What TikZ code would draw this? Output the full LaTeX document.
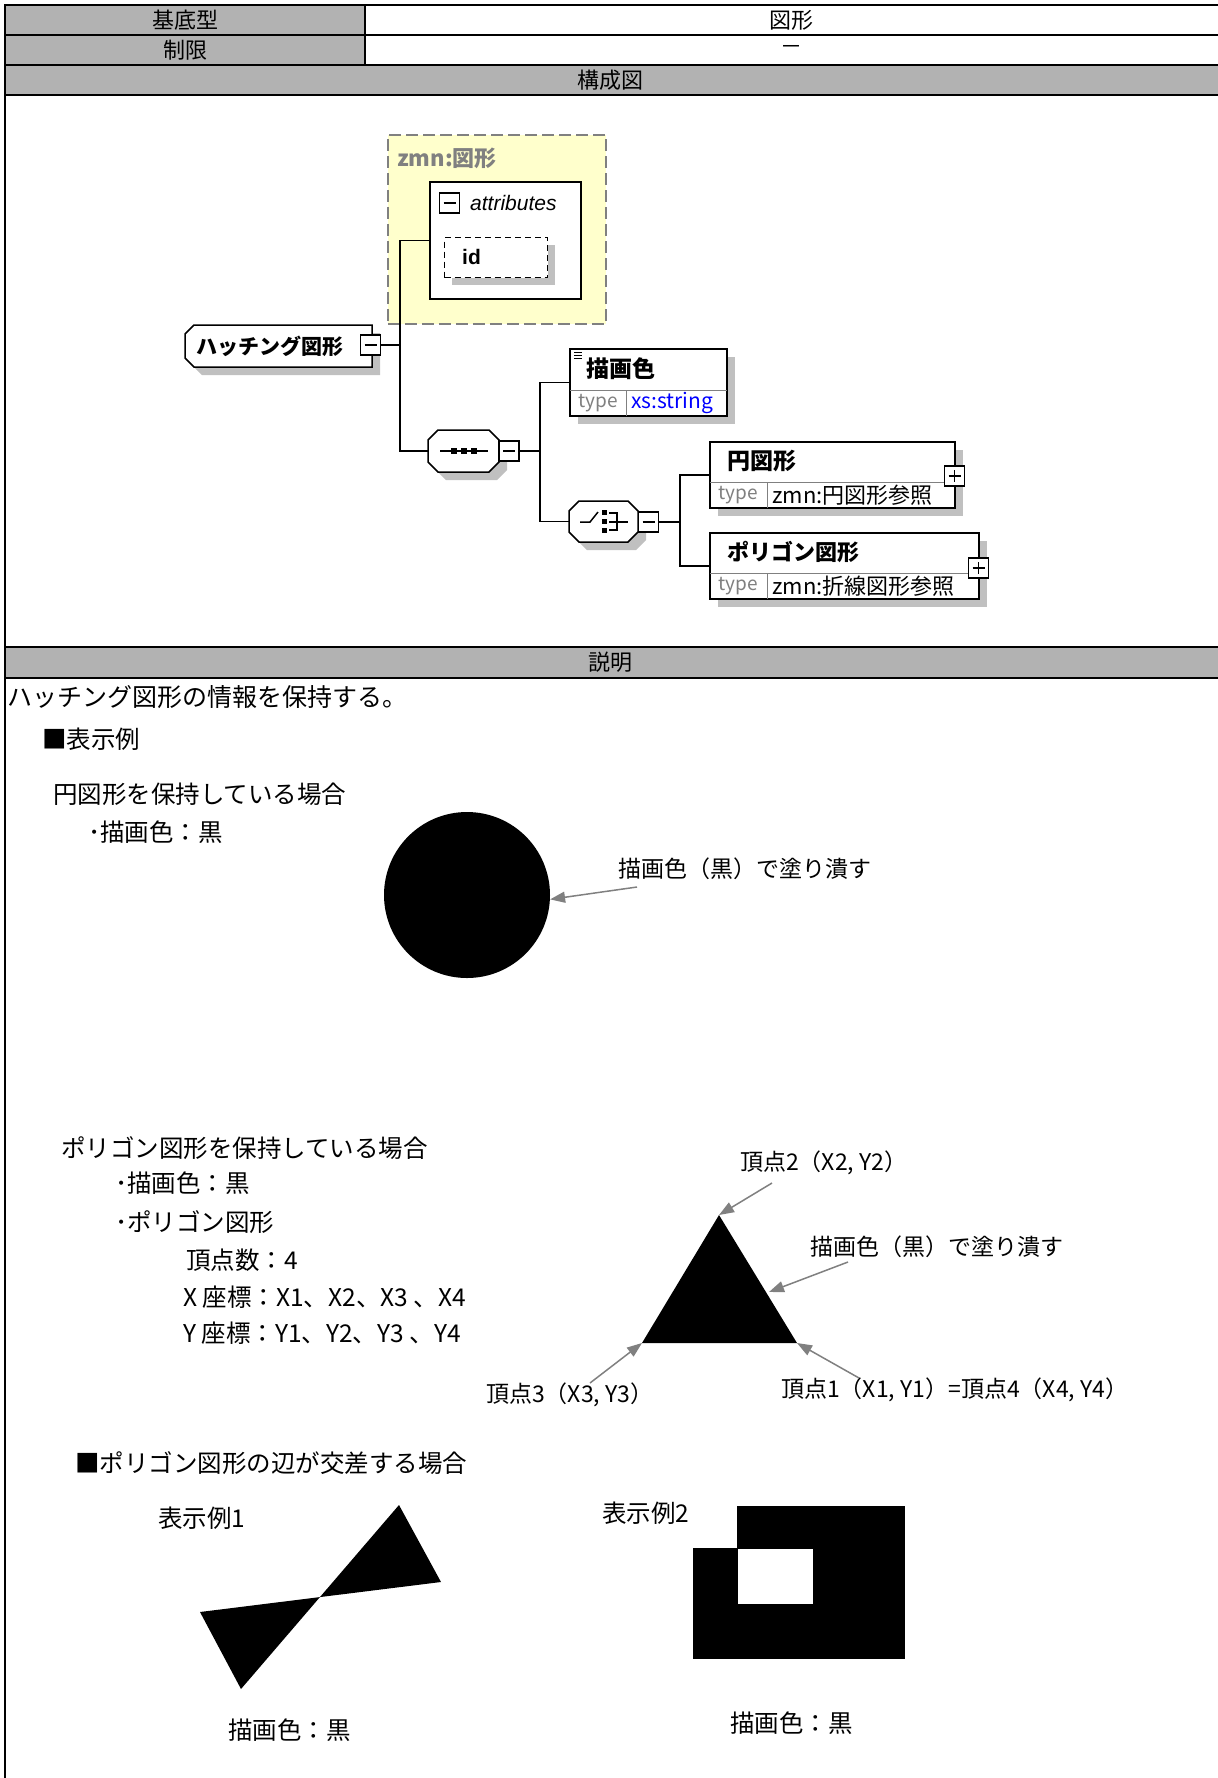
\documentclass[tikz,border=0pt]{standalone}
\usepackage{fontspec}
\setmainfont{Noto Sans CJK JP}
\newfontfamily\latinf{Liberation Sans}
\usetikzlibrary{arrows.meta}
\definecolor{hdrgray}{RGB}{178,178,178}
\definecolor{shgray}{RGB}{192,192,192}
\definecolor{ybg}{RGB}{255,255,204}
\definecolor{dgray}{RGB}{128,128,128}
\definecolor{tblue}{RGB}{0,0,255}
\newcommand{\fsz}[1]{\fontsize{#1}{#1}\selectfont}
\tikzset{
  tline/.style={line width=2pt},
  thin line/.style={line width=1.2pt},
  hdr/.style={inner sep=0pt, font=\fsz{22}},
  txt/.style={inner sep=0pt, anchor=west, font=\fsz{24.5}},
  lbl/.style={inner sep=0pt, anchor=west, font=\fsz{23}},
  ebox/.style={draw, line width=1.5pt, fill=white, inner sep=0pt, outer sep=0pt},
  shd/.style={fill=shgray, draw=none},
  conn/.style={line width=1.5pt},
  pointer/.style={draw=dgray, line width=1.5pt, -{Triangle[length=15pt,width=11pt]}},
  pmbox/.style={draw, line width=1.2pt, fill=white, minimum size=20pt, inner sep=0pt, outer sep=0pt},
  minusbox/.style={pmbox, path picture={\draw[line width=1.2pt] ([xshift=4pt]path picture bounding box.west) -- ([xshift=-4pt]path picture bounding box.east);}},
  plusbox/.style={pmbox, path picture={\draw[line width=1.2pt] ([xshift=4pt]path picture bounding box.west) -- ([xshift=-4pt]path picture bounding box.east); \draw[line width=1.2pt] ([yshift=-4pt]path picture bounding box.north) -- ([yshift=4pt]path picture bounding box.south);}},
  ename/.style={inner sep=0pt, anchor=west, font=\fsz{23}\bfseries},
  tlabel/.style={inner sep=0pt, text=dgray, font=\fsz{19}},
  tval/.style={inner sep=0pt, anchor=west, font=\fsz{22}},
  anc/.style={inner sep=0pt, outer sep=0pt, draw=none},
  divl/.style={line width=1pt, draw=dgray},
  octo/.style={line width=1.5pt, fill=white},
}
\begin{document}
\begin{tikzpicture}[x=1pt,y=-1pt]
\useasboundingbox (0,0) rectangle (1218,1778);
\fill[white] (0,0) rectangle (1218,1778);
% ---------- table ----------
\fill[hdrgray] (5,5) rectangle (365,65);
\fill[hdrgray] (5,65) rectangle (1218,95);
\fill[hdrgray] (5,647) rectangle (1218,678);
\draw[tline] (1218,5) -- (5,5) -- (5,1778);
\draw[thin line] (5,35) -- (1218,35);
\draw[tline] (5,65) -- (1218,65);
\draw[tline] (5,95) -- (1218,95);
\draw[tline] (5,647) -- (1218,647);
\draw[tline] (5,678) -- (1218,678);
\draw[thin line] (365,5) -- (365,65);
\node[hdr] (h1) at (185,20) {基底型};
\node[hdr] (v1) at (791,20) {図形};
\node[hdr] (h2) at (185,50) {制限};
\node[hdr] (v2) at (791,50) {－};
\node[hdr] (h3) at (610,80) {構成図};
\node[hdr] (h4) at (610,662) {説明};
% ---------- schema diagram ----------
\node[draw=dgray, fill=ybg, line width=1.5pt, dash pattern=on 12pt off 5pt, minimum width=218pt, minimum height=189pt, inner sep=0pt, anchor=north west] (grp) at (387,134) {};
\node[inner sep=0pt, anchor=west, text=dgray, font=\fsz{22}\bfseries] (grpl) at (397,158) {zmn:図形};
\node[ebox, minimum width=151pt, minimum height=117pt, anchor=north west] (attr) at (430,182) {};
\node[minusbox] (attrm) at (449.5,203) {};
\node[inner sep=0pt, anchor=west, font=\latinf\itshape\fsz{21}] (attrl) at (470,203) {attributes};
\fill[shd] (452,245) rectangle (555,285);
\node[draw, dash pattern=on 6pt off 4pt, line width=1.3pt, fill=white, minimum width=103pt, minimum height=40pt, inner sep=0pt, anchor=north west] (id) at (444,237) {};
\node[inner sep=0pt, anchor=west, font=\latinf\bfseries\fsz{21}] (idl) at (462,257) {id};
% element hatch
\node[anc, minimum width=187pt, minimum height=42pt, anchor=north west] (hatch) at (185,325) {};
\fill[shd, shift={(8,8)}] (194,325) -- (372,325) -- (372,367) -- (194,367) -- (185,358) -- (185,334) -- cycle;
\draw[octo] (194,325) -- (372,325) -- (372,367) -- (194,367) -- (185,358) -- (185,334) -- cycle;
\node[ename, font=\fsz{21}\bfseries] (hatchl) at (196,346) {ハッチング図形};
\node[minusbox] (hatchm) at (370.5,345) {};
% sequence
\node[anc, minimum width=70pt, minimum height=42pt] (seq) at (463.5,451) {};
\fill[shd, shift={(8,8)}] (438,430) -- (489,430) -- (499,440) -- (499,462) -- (489,472) -- (438,472) -- (428,462) -- (428,440) -- cycle;
\draw[octo] (438,430) -- (489,430) -- (499,440) -- (499,462) -- (489,472) -- (438,472) -- (428,462) -- (428,440) -- cycle;
\draw[line width=1.5pt] (440,451) -- (488,451);
\fill (451,448) rectangle (457,454);
\fill (461,448) rectangle (467,454);
\fill (471,448) rectangle (477,454);
\node[minusbox] (seqm) at (509,451) {};
% choice
\node[anc, minimum width=69pt, minimum height=41pt] (cho) at (603.5,521.5) {};
\fill[shd, shift={(8,8)}] (579,501) -- (628,501) -- (638,511) -- (638,532) -- (628,542) -- (579,542) -- (569,532) -- (569,511) -- cycle;
\draw[octo] (579,501) -- (628,501) -- (638,511) -- (638,532) -- (628,542) -- (579,542) -- (569,532) -- (569,511) -- cycle;
\draw[line width=1.5pt] (580,522) -- (590,522) -- (598,512);
\fill (602,510) rectangle (607,515);
\fill (602,519) rectangle (607,524);
\fill (602,528) rectangle (607,533);
\draw[line width=1.5pt] (609,513) -- (617,513) -- (617,530) -- (609,530);
\draw[line width=1.5pt] (609,522) -- (628,522);
\node[minusbox] (chom) at (648.5,522) {};
% element byoga
\fill[shd] (578,357) rectangle (735,424);
\node[ebox, minimum width=157pt, minimum height=67pt, anchor=north west] (byo) at (570,349) {};
\draw[divl] (570,390) -- (727,390);
\draw[divl] (626,390) -- (626,416);
\draw[line width=1pt] (574,352) -- (582,352) (574,355) -- (582,355) (574,358) -- (582,358);
\node[ename] (byol) at (586,369) {描画色};
\node[tlabel] (byot) at (598,403) {type};
\node[tval, text=tblue, font=\fsz{21}] (byov) at (631,403) {xs:string};
% element en
\fill[shd] (718,450) rectangle (963,516);
\node[ebox, minimum width=245pt, minimum height=66pt, anchor=north west] (en) at (710,442) {};
\draw[divl] (710,482) -- (955,482);
\draw[divl] (767,482) -- (767,508);
\node[ename] (enl) at (727,461) {円図形};
\node[tlabel] (ent) at (738,495) {type};
\node[tval] (env) at (772,495) {zmn:円図形参照};
\node[plusbox] (enp) at (954.5,476) {};
% element polygon
\fill[shd] (718,541) rectangle (987,607);
\node[ebox, minimum width=269pt, minimum height=66pt, anchor=north west] (poly) at (710,533) {};
\draw[divl] (710,573) -- (979,573);
\draw[divl] (767,573) -- (767,599);
\node[ename, font=\fsz{22}\bfseries] (polyl) at (727,552) {ポリゴン図形};
\node[tlabel] (polyt) at (738,586) {type};
\node[tval] (polyv) at (772,586) {zmn:折線図形参照};
\node[plusbox] (polyp) at (978.5,568) {};
% connectors
\coordinate (j1) at (400,0);
\draw[conn] (hatchm.east) -- (hatchm.east -| j1);
\draw[conn] (attr.west) -- (attr.west -| j1) -- (seq.west -| j1) -- (seq.west);
\coordinate (j2) at (540,0);
\draw[conn] (seqm.east) -- (seqm.east -| j2);
\draw[conn] (byo.west) -- (byo.west -| j2) -- (cho.west -| j2) -- (cho.west);
\coordinate (j3) at (680,0);
\draw[conn] (chom.east) -- (chom.east -| j3);
\draw[conn] (en.west) -- (en.west -| j3) -- (poly.west -| j3) -- (poly.west);
% ---------- description ----------
\node[txt, font=\fsz{25}] (d0) at (7,697) {ハッチング図形の情報を保持する。};
\node[txt] (d1) at (42,739) {■表示例};
\node[txt] (d2) at (53,794) {円図形を保持している場合};
\node[txt] (d3) at (88,832) {･描画色：黒};
\node[circle, fill, minimum size=166pt, inner sep=0pt] (circ) at (467,895) {};
\node[lbl] (c1) at (618,869) {描画色（黒）で塗り潰す};
\coordinate (c1s) at (637,887);
\draw[pointer] (c1s) -- (circ.-3);
% polygon example
\node[txt] (p0) at (61,1148) {ポリゴン図形を保持している場合};
\node[txt] (p1) at (115,1183) {･描画色：黒};
\node[txt] (p2) at (115,1222) {･ポリゴン図形};
\node[txt] (p3) at (186,1260) {頂点数：4};
\node[txt] (p4) at (183,1297) {X 座標：X1、X2、X3 、X4};
\node[txt] (p5) at (183,1333) {Y 座標：Y1、Y2、Y3 、Y4};
\coordinate (tv2) at (719,1215);
\coordinate (tv3) at (642,1343);
\coordinate (tv1) at (797,1343);
\fill (tv2) -- (tv3) -- (tv1) -- cycle;
\node[lbl] (l2) at (740,1163) {頂点2（X2, Y2）};
\coordinate (a2s) at (772,1183);
\draw[pointer] (a2s) -- (tv2);
\node[lbl] (lf) at (810,1247) {描画色（黒）で塗り潰す};
\coordinate (afs) at (848,1262);
\coordinate (afe) at (769,1292);
\draw[pointer] (afs) -- (afe);
\node[lbl] (l3) at (486,1395) {頂点3（X3, Y3）};
\coordinate (a3s) at (590,1383);
\draw[pointer] (a3s) -- (tv3);
\node[lbl] (l1) at (781,1390) {頂点1（X1, Y1）=頂点4（X4, Y4）};
\coordinate (a1s) at (859,1378);
\draw[pointer] (a1s) -- (tv1);
% crossing examples
\node[txt] (x0) at (75,1463) {■ポリゴン図形の辺が交差する場合};
\node[txt] (x1) at (158,1518) {表示例1};
\fill (399,1505) -- (441,1582) -- (200,1612) -- (241,1689) -- cycle;
\node[txt] (x2) at (228,1730) {描画色：黒};
\node[txt] (x3) at (602,1513) {表示例2};
\fill (737,1506) rectangle (905,1659);
\fill (693,1548) rectangle (737,1659);
\fill[white] (738,1549) rectangle (813,1604);
\node[txt] (x4) at (730,1723) {描画色：黒};
\end{tikzpicture}
\end{document}
